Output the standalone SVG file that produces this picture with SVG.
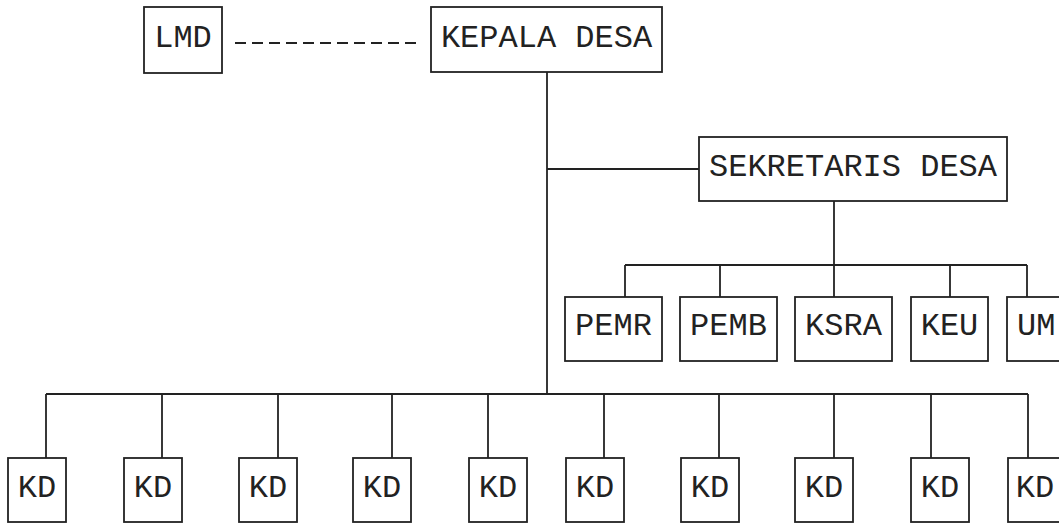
<svg xmlns="http://www.w3.org/2000/svg" width="1059" height="524" viewBox="0 0 1059 524">
<style>
.box{fill:#fff;stroke:#222;stroke-width:1.8}
.t{font-family:"Liberation Mono","DejaVu Sans Mono",monospace;font-size:32px;fill:#222;text-anchor:middle}
.c{stroke:#222;stroke-width:1.8;fill:none}
.d{stroke:#222;stroke-width:1.8;fill:none;stroke-dasharray:11 6}
</style>
<rect width="1059" height="524" fill="#fff"/>
<g id="connectors">
<line class="d" x1="235" y1="43" x2="418" y2="43"/>
<line class="c" x1="547" y1="72" x2="547" y2="394"/>
<line class="c" x1="547" y1="169" x2="699" y2="169"/>
<line class="c" x1="834" y1="201" x2="834" y2="265"/>
<line class="c" x1="625" y1="265" x2="1027" y2="265"/>
<line class="c" x1="625" y1="265" x2="625" y2="297"/>
<line class="c" x1="720" y1="265" x2="720" y2="297"/>
<line class="c" x1="834" y1="265" x2="834" y2="297"/>
<line class="c" x1="950" y1="265" x2="950" y2="297"/>
<line class="c" x1="1027" y1="265" x2="1027" y2="297"/>
<line class="c" x1="46" y1="394" x2="1028" y2="394"/>
<line class="c" x1="46" y1="394" x2="46" y2="458"/>
<line class="c" x1="162" y1="394" x2="162" y2="458"/>
<line class="c" x1="278" y1="394" x2="278" y2="458"/>
<line class="c" x1="392" y1="394" x2="392" y2="458"/>
<line class="c" x1="488" y1="394" x2="488" y2="458"/>
<line class="c" x1="604" y1="394" x2="604" y2="458"/>
<line class="c" x1="719" y1="394" x2="719" y2="458"/>
<line class="c" x1="834" y1="394" x2="834" y2="458"/>
<line class="c" x1="931" y1="394" x2="931" y2="458"/>
<line class="c" x1="1028" y1="394" x2="1028" y2="458"/>
</g>
<g id="lmd"><rect class="box" x="144" y="7" width="78" height="66"/><text class="t" x="183" y="47">LMD</text></g>
<g id="kepala"><rect class="box" x="431" y="7" width="231" height="65"/><text class="t" x="546.5" y="47">KEPALA DESA</text></g>
<g id="sekretaris"><rect class="box" x="699" y="137" width="308" height="64"/><text class="t" x="853" y="176">SEKRETARIS DESA</text></g>
<g id="pemr"><rect class="box" x="565" y="297" width="97" height="64"/><text class="t" x="613.5" y="335">PEMR</text></g>
<g id="pemb"><rect class="box" x="680" y="297" width="97" height="64"/><text class="t" x="728.5" y="335">PEMB</text></g>
<g id="ksra"><rect class="box" x="795" y="297" width="97" height="64"/><text class="t" x="843.5" y="335">KSRA</text></g>
<g id="keu"><rect class="box" x="911" y="297" width="77" height="64"/><text class="t" x="949.5" y="335">KEU</text></g>
<g id="um"><rect class="box" x="1007" y="297" width="70" height="64"/><text class="t" x="1036" y="335" text-anchor="start" style="text-anchor:start" dx="-19">UM</text></g>
<g id="kd1"><rect class="box" x="8" y="458" width="58" height="64"/><text class="t" x="37" y="497">KD</text></g>
<g id="kd2"><rect class="box" x="124" y="458" width="58" height="64"/><text class="t" x="153" y="497">KD</text></g>
<g id="kd3"><rect class="box" x="239" y="458" width="58" height="64"/><text class="t" x="268" y="497">KD</text></g>
<g id="kd4"><rect class="box" x="353" y="458" width="58" height="64"/><text class="t" x="382" y="497">KD</text></g>
<g id="kd5"><rect class="box" x="469" y="458" width="58" height="64"/><text class="t" x="498" y="497">KD</text></g>
<g id="kd6"><rect class="box" x="566" y="458" width="58" height="64"/><text class="t" x="595" y="497">KD</text></g>
<g id="kd7"><rect class="box" x="681" y="458" width="58" height="64"/><text class="t" x="710" y="497">KD</text></g>
<g id="kd8"><rect class="box" x="795" y="458" width="58" height="64"/><text class="t" x="824" y="497">KD</text></g>
<g id="kd9"><rect class="box" x="911" y="458" width="58" height="64"/><text class="t" x="940" y="497">KD</text></g>
<g id="kd10"><rect class="box" x="1008" y="458" width="60" height="64"/><text class="t" x="1035" y="497">KD</text></g>
</svg>
